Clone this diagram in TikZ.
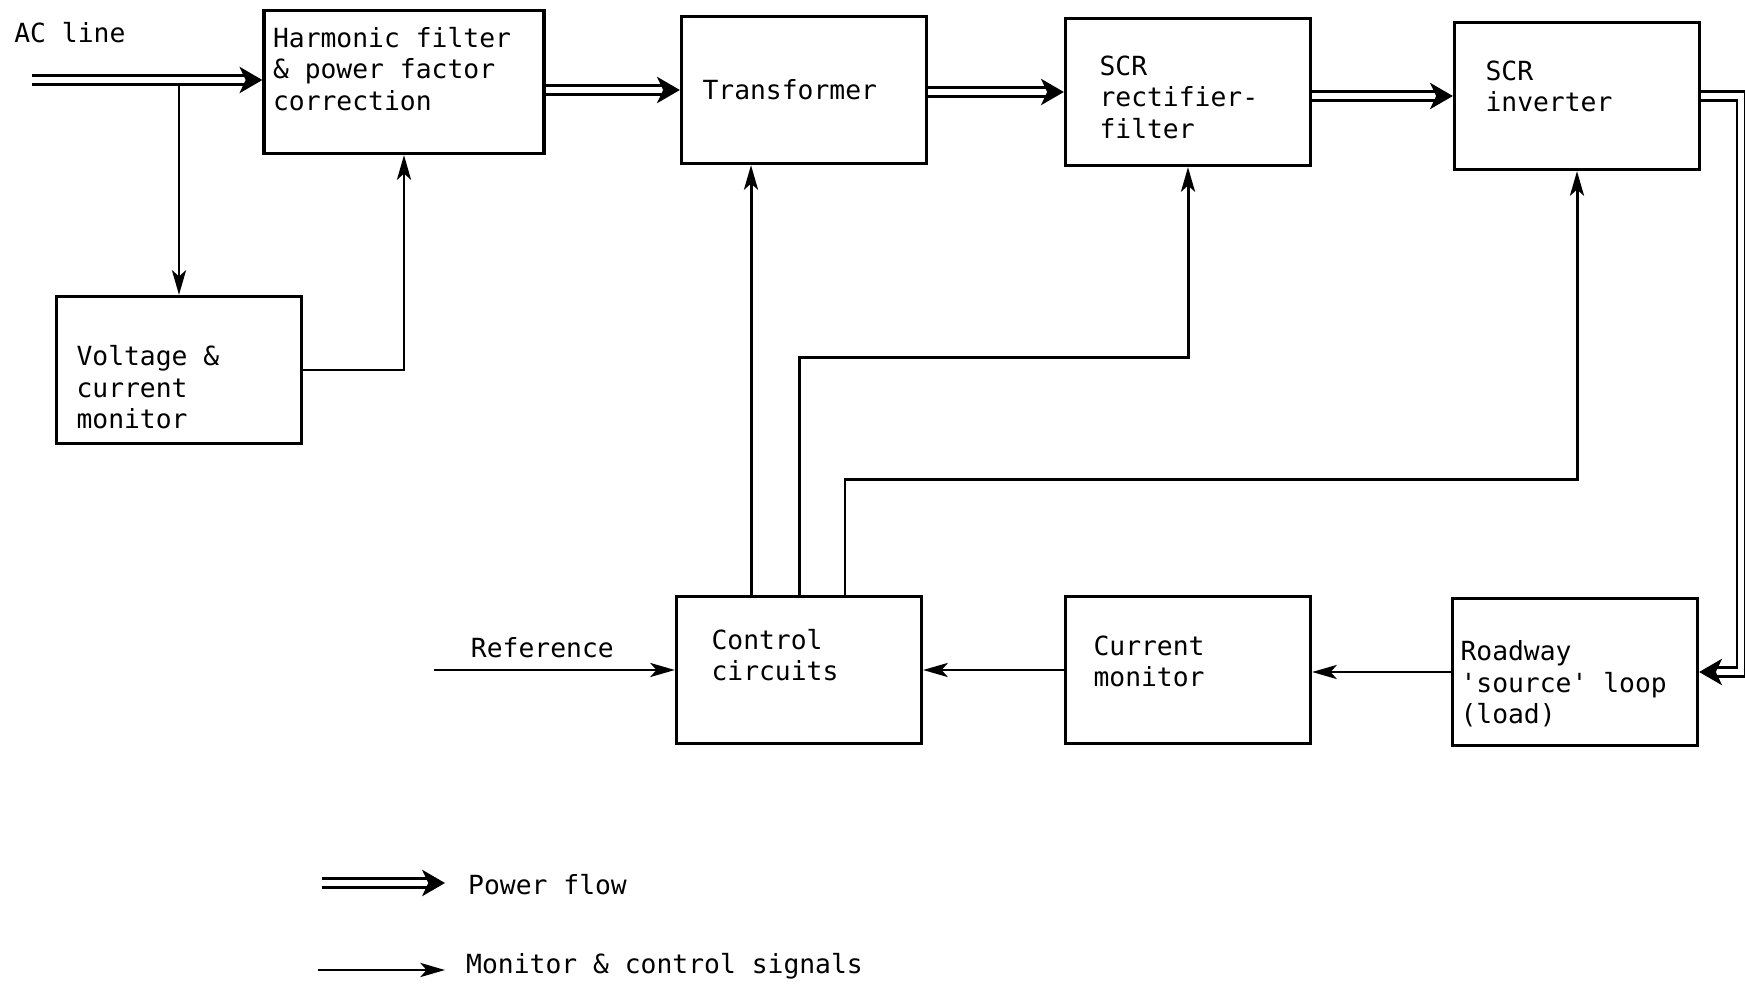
\documentclass[tikz,border=0pt]{standalone}
\usepackage{fontspec}
\setmonofont{DejaVu Sans Mono}
\usepackage{tikz}
\usetikzlibrary{arrows.meta,positioning}

% struts that move the text of a box up or down
\newcommand{\txtup}[1]{\rule[-#1]{0pt}{0pt}}
\newcommand{\txtdn}[1]{\rule{0pt}{#1}}

\tikzset{
  blk/.style={draw, line width=1.9pt, minimum width=4.9cm, minimum height=2.94cm, align=left, inner sep=0pt},
  sig/.style={line width=1.7pt, -{Stealth[length=14pt,width=8pt,inset=3.5pt]}},
  power/.style={double, line width=1.4pt, double distance=3.6pt, -{Stealth[length=13pt,width=15pt,inset=3.5pt]}}
}

\begin{document}
\begin{tikzpicture}[x=0.02cm, y=-0.02cm, every node/.style={font=\ttfamily\fontsize{15}{18}\selectfont, execute at begin node={\spaceskip 0pt\relax}}]
    \useasboundingbox (0,0) rectangle (1745,986);

    % Power chain
    \node[blk, minimum width=5.6cm, minimum height=2.86cm, text width=5.24cm] (hf) at (404,82) {Harmonic filter\\\& power factor\\correction\txtup{15pt}};
    \node[blk, text width=4.06cm] (tr) at (804,90) {Transformer};
    \node[blk, text width=3.54cm] (rect) at (1188,92) {\txtdn{17pt}SCR\\rectifier-\\filter};
    \node[blk, text width=3.66cm] (inv) at (1577,96) {SCR\\inverter\txtup{11pt}};

    % Monitor and control
    \node[blk, text width=4.1cm] (vcm) at (179,370) {\txtdn{31pt}Voltage \&\\current\\monitor};
    \node[blk, text width=3.5cm] (ctl) at (799,670) {Control\\circuits\txtup{17pt}};
    \node[blk, text width=3.78cm] (cm) at (1188,670) {Current\\monitor\txtup{10pt}};
    \node[blk, text width=4.58cm] (road) at (1575,672) {\txtdn{25pt}Roadway\\'source' loop\\(load)};

    % Free ends
    \node[anchor=west, inner sep=0pt] (acl) at (14,33) {AC line};
    \coordinate (ac) at (32,80);
    \coordinate (ref) at (434,670);

    % Signals
    \draw[sig] (vcm.north |- 0,84) -- (vcm.north);
    \draw[sig] (vcm.east) -| (hf.south);
    \draw[sig] ([xshift=-0.96cm]ctl.north) -- ([xshift=-0.96cm]ctl.north |- tr.south);
    \draw[sig] (ctl.north) -- ++(0,-237) -| (rect.south);
    \draw[sig] ([xshift=0.92cm]ctl.north) -- ++(0,-115) -| (inv.south);
    \draw[sig] (ref) -- node[above=3pt, pos=0.45] (reftxt) {Reference} (ctl.west);
    \draw[sig] (cm.west) -- (cm.west -| ctl.east);
    \draw[sig] (road.west) -- (road.west -| cm.east);

    % Power flow
    \draw[power] (ac) -- (ac -| hf.west);
    \draw[power] (hf.east |- tr.west) -- (tr.west);
    \draw[power] (tr.east |- rect.west) -- (rect.west);
    \draw[power] (rect.east |- inv.west) -- (inv.west);
    \draw[power] (inv.east) -- ++(40,0) |- (road.east);

    % Legend
    \coordinate (pfs) at (322,883);
    \coordinate (mcs) at (318,970);
    \node[anchor=west] (pftxt) at (462,885) {Power flow};
    \node[anchor=west] (mctxt) at (460,966) {Monitor \& control signals};
    \draw[power] (pfs) -- (pfs -| 445,0);
    \draw[sig] (mcs) -- (mcs -| 445,0);
\end{tikzpicture}
\end{document}
